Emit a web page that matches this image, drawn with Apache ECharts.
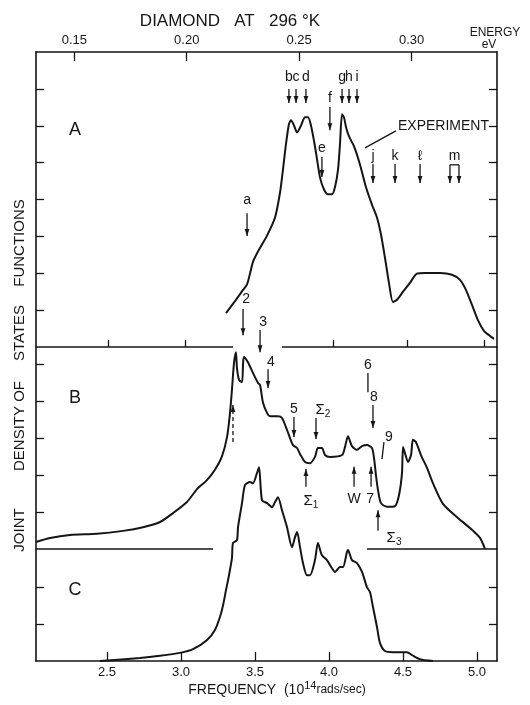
<!DOCTYPE html>
<html><head><meta charset="utf-8">
<script src="https://cdn.jsdelivr.net/npm/echarts@6/dist/echarts.min.js"></script>
<style>html,body{margin:0;padding:0;background:#fff}#c{width:530px;height:705px}</style>
</head><body><div id="c"></div>
<script>
// ---------- data ----------
const freqMin = 2.02, freqMax = 5.135;          // 10^14 rad/s
const hbarEV = 0.065821;                          // eV per 10^14 rad/s
const freqTicks = [2.5, 3.0, 3.5, 4.0, 4.5, 5.0];
const energyTicks = [0.15, 0.20, 0.25, 0.30];
const baseTicksA = [2.51, 3.03, 4.03, 4.53, 5.05];
const yTicksA = [1, 2, 3, 4, 5, 6, 7];
const yTicksB = [1, 2, 3, 4, 5];
const yTicksC = [1, 2];

// A: experiment
const curveA = [
 [3.304,0.92],[3.371,1.28],[3.419,1.55],[3.446,1.70],[3.466,1.99],[3.486,2.31],[3.52,2.59],
 [3.581,3.02],[3.635,3.51],[3.669,4.19],[3.689,4.82],[3.709,5.50],[3.729,6.04],[3.743,6.15],
 [3.763,6.01],[3.784,5.82],[3.811,6.01],[3.838,6.23],[3.858,6.23],[3.878,6.01],[3.899,5.58],
 [3.919,5.09],[3.939,4.60],[3.966,4.27],[3.993,4.14],[4.02,4.14],[4.040,4.33],[4.061,4.82],
 [4.074,5.50],[4.088,6.31],[4.101,6.23],[4.115,5.96],[4.135,5.71],[4.169,5.44],[4.209,4.95],
 [4.25,4.33],[4.29,3.86],[4.324,3.51],[4.351,3.05],[4.378,2.42],[4.405,1.74],[4.432,1.22],
 [4.459,1.28],[4.50,1.50],[4.547,1.74],[4.594,1.99],[4.648,2.01],[4.75,2.01],[4.831,1.96],
 [4.885,1.82],[4.925,1.55],[4.966,1.14],[5.006,0.73],[5.047,0.44],[5.088,0.30],[5.115,0.22]
];
// B: calculated
const curveB = [
 [2.02,0.19],[2.115,0.30],[2.25,0.38],[2.432,0.41],[2.608,0.49],[2.743,0.59],[2.858,0.73],
 [2.946,0.97],[3.04,1.27],[3.108,1.62],[3.175,1.86],[3.229,2.14],[3.277,2.51],[3.311,3.03],
 [3.331,3.68],[3.344,4.30],[3.358,5.03],[3.371,5.32],[3.378,4.89],[3.392,4.57],[3.412,4.51],
 [3.419,5.00],[3.425,5.19],[3.452,5.05],[3.486,4.76],[3.52,4.49],[3.534,4.43],[3.554,3.95],
 [3.581,3.68],[3.601,3.59],[3.655,3.59],[3.682,3.54],[3.716,3.22],[3.756,2.81],[3.784,2.73],
 [3.804,2.57],[3.838,2.35],[3.871,2.32],[3.905,2.49],[3.925,2.73],[3.952,2.73],[3.973,2.54],
 [4.007,2.49],[4.088,2.54],[4.108,2.76],[4.128,3.05],[4.155,2.78],[4.189,2.68],[4.223,2.78],
 [4.256,2.81],[4.29,2.73],[4.304,2.46],[4.317,2.00],[4.331,1.59],[4.351,1.24],[4.392,1.14],
 [4.446,1.16],[4.473,1.46],[4.493,2.05],[4.50,2.76],[4.513,2.59],[4.534,2.35],[4.554,2.54],
 [4.567,2.95],[4.587,2.89],[4.621,2.54],[4.662,2.19],[4.702,1.78],[4.77,1.22],[4.865,0.86],
 [4.952,0.57],[5.02,0.30],[5.054,0]
];
// C: calculated
const curveC = [
 [2.452,0],[2.723,0.08],[2.858,0.14],[2.993,0.22],[3.081,0.32],[3.176,0.57],[3.229,0.84],
 [3.263,1.19],[3.284,1.51],[3.304,1.92],[3.324,2.32],[3.344,2.78],[3.351,3.19],[3.378,3.27],
 [3.385,3.62],[3.412,4.27],[3.432,4.76],[3.466,4.84],[3.486,4.81],[3.513,5.08],[3.527,5.24],
 [3.547,4.35],[3.581,4.27],[3.615,4.16],[3.635,4.30],[3.655,4.43],[3.682,4.08],[3.716,3.62],
 [3.75,3.08],[3.77,3.35],[3.784,3.49],[3.804,3.08],[3.824,2.65],[3.851,2.32],[3.871,2.32],
 [3.905,2.73],[3.925,3.19],[3.952,2.86],[3.986,2.73],[4.02,2.51],[4.04,2.41],[4.074,2.54],
 [4.094,2.54],[4.121,2.95],[4.128,3.0],[4.155,2.73],[4.189,2.65],[4.223,2.41],[4.256,2.0],
 [4.277,1.86],[4.297,1.46],[4.324,0.92],[4.344,0.49],[4.378,0.27],[4.432,0.24],[4.527,0.24],
 [4.561,0.16],[4.614,0.05],[4.702,0]
];
// baseline segments (with gaps)
const segsA = [[2.02, 3.351], [3.682, 5.135]];
const segsBC = [[2.02, 3.216], [4.256, 5.135]];

// annotations (freq, panel units)
const notesA = [
 {t:'a', f:3.446, y1:3.63, y2:3.01, ly:3.99},
 {t:'b', f:3.729, y1:7.0, y2:6.62, ly:7.32},
 {t:'c', f:3.777, y1:7.0, y2:6.62, ly:7.32},
 {t:'d', f:3.844, y1:7.0, y2:6.62, ly:7.32},
 {t:'g', f:4.088, y1:7.0, y2:6.62, ly:7.32},
 {t:'h', f:4.135, y1:7.0, y2:6.62, ly:7.32},
 {t:'i', f:4.189, y1:7.0, y2:6.62, ly:7.32},
 {t:'f', f:4.006, y1:6.51, y2:5.88, ly:6.75},
 {t:'e', f:3.952, y1:5.15, y2:4.61, ly:5.40},
 {t:'j', f:4.297, y1:4.96, y2:4.45, ly:5.18},
 {t:'k', f:4.446, y1:4.96, y2:4.45, ly:5.18},
 {t:'ℓ', f:4.615, y1:4.96, y2:4.45, ly:5.18},
 {t:'',  f:4.817, y1:4.94, y2:4.45},
 {t:'',  f:4.878, y1:4.94, y2:4.45},
 {t:'m', lf:4.848, ly:5.18}
];
const notesB = [
 {t:'2', f:3.419, y1:6.49, y2:5.78, lf:3.44, ly:6.76},
 {t:'3', f:3.534, y1:5.92, y2:5.32, lf:3.554, ly:6.14},
 {t:'4', f:3.588, y1:4.86, y2:4.35, lf:3.608, ly:5.05},
 {t:'5', f:3.763, y1:3.57, y2:3.03, ly:3.78},
 {t:'Σ2', f:3.912, y1:3.54, y2:2.97, lf:3.939, ly:3.76},
 {t:'', f:3.351, y1:2.89, y2:3.89, dash:true},
 {t:'6', f:4.263, y1:4.76, y2:4.24, ly:4.97, noHead:true},
 {t:'8', f:4.297, y1:3.89, y2:3.27, lf:4.304, ly:4.11},
 {t:'9', f:4.371, f2:4.358, y1:2.89, y2:2.43, lf:4.405, ly:3.03, noHead:true},
 {t:'Σ1', f:3.844, y1:1.68, y2:2.16, lf:3.858, ly:1.30},
 {t:'W', f:4.169, y1:1.68, y2:2.22, ly:1.35},
 {t:'7', f:4.284, y1:1.68, y2:2.22, lf:4.277, ly:1.35},
 {t:'Σ3', f:4.331, y1:0.49, y2:1.05, lf:4.419, ly:0.30}
];
const expLabel = {t:'EXPERIMENT', f:4.466, y:5.99, from:[4.243,5.40], to:[4.452,5.86]};

// ---------- chart ----------
const INK = '#151515';
const FONT = '"Liberation Sans", Arial, sans-serif';
const chart = echarts.init(document.getElementById('c'), null, {renderer:'canvas'});
const L = 36, R = 33;
function yAx(grid, pos, max, ticks){
  return {type:'value', gridIndex:grid, position:pos, min:0, max:max,
    axisLine:{show:true, onZero:false, lineStyle:{color:INK, width:1.6}},
    axisTick:{show:true, inside:true, length:8, customValues:ticks, lineStyle:{color:INK, width:1.3}},
    axisLabel:{show:false}, splitLine:{show:false}};
}
function lineSeries(xi, yi, data, w){
  return {type:'line', xAxisIndex:xi, yAxisIndex:yi, data:data, showSymbol:false, symbol:'none',
    smooth:0.25, clip:false, silent:true, lineStyle:{color:INK, width:w||2}, z:3};
}
const series = [
  lineSeries(0, 0, curveA),
  lineSeries(2, 2, curveB),
  lineSeries(3, 4, curveC)
];
segsA.forEach(s => series.push(Object.assign(lineSeries(0,0,[[s[0],0],[s[1],0]],1.5),{smooth:false})));
segsBC.forEach(s => series.push(Object.assign(lineSeries(2,2,[[s[0],0],[s[1],0]],1.5),{smooth:false})));

chart.setOption({
  animation:false,
  backgroundColor:'#fff',
  grid:[
    {left:L, right:R, top:52, height:295},
    {left:L, right:R, top:347, height:202},
    {left:L, right:R, top:549, height:112}
  ],
  xAxis:[
    {type:'value', gridIndex:0, min:freqMin, max:freqMax, position:'bottom',
     axisLine:{show:false, onZero:false}, axisLabel:{show:false}, splitLine:{show:false},
     axisTick:{show:true, inside:true, length:7, customValues:baseTicksA, lineStyle:{color:INK,width:1.3}}},
    {type:'value', gridIndex:0, min:freqMin*hbarEV, max:freqMax*hbarEV, position:'top',
     axisLine:{show:true, onZero:false, lineStyle:{color:INK, width:1.6}}, splitLine:{show:false},
     axisTick:{show:true, inside:true, length:9, customValues:energyTicks, lineStyle:{color:INK,width:1.3}},
     axisLabel:{show:true, customValues:energyTicks, formatter:v=>v.toFixed(2), margin:5,
       fontSize:13, fontFamily:FONT, color:INK}},
    {type:'value', gridIndex:1, min:freqMin, max:freqMax, show:false},
    {type:'value', gridIndex:2, min:freqMin, max:freqMax, position:'bottom',
     axisLine:{show:true, onZero:false, lineStyle:{color:INK, width:1.6}}, splitLine:{show:false},
     axisTick:{show:true, inside:true, length:9, customValues:freqTicks, lineStyle:{color:INK,width:1.3}},
     axisLabel:{show:true, customValues:freqTicks, formatter:v=>v.toFixed(1), margin:5,
       fontSize:13, fontFamily:FONT, color:INK}}
  ],
  yAxis:[
    yAx(0,'left',8,yTicksA), yAx(0,'right',8,yTicksA),
    yAx(1,'left',5.46,yTicksB), yAx(1,'right',5.46,yTicksB),
    yAx(2,'left',3.03,yTicksC), yAx(2,'right',3.03,yTicksC)
  ],
  series: series
});

// ---------- annotations ----------
const G = [];
function P(panel, f, y){
  return panel === 'A' ? chart.convertToPixel({xAxisIndex:0, yAxisIndex:0}, [f, y])
                       : chart.convertToPixel({xAxisIndex:2, yAxisIndex:2}, [f, y]);
}
function txt(x, y, text, size, extra){
  const style = Object.assign({text:text, x:x, y:y, fill:INK, fontSize:size, fontFamily:FONT,
      align:'center', verticalAlign:'middle'}, extra||{});
  G.push({type:'text', style:style, z:10});
}
function sigma(x, y, d){
  txt(x, y, '{n|Σ}{s|'+d+'}', 15, {rich:{n:{fontSize:15, fontFamily:FONT, fill:INK},
      s:{fontSize:10, fontFamily:FONT, fill:INK, verticalAlign:'bottom', padding:[8,0,0,0]}}});
}
function arrow(a, b, head, dash){
  G.push({type:'line', shape:{x1:a[0], y1:a[1], x2:b[0], y2:b[1]},
    style:{stroke:INK, lineWidth:1.3, lineDash: dash ? [4,3] : null}, z:10});
  if (head){
    const dir = b[1] > a[1] ? 1 : -1;
    G.push({type:'polygon', shape:{points:[[b[0]-2.4, b[1]-7*dir],[b[0]+2.4, b[1]-7*dir],[b[0], b[1]]]},
      style:{fill:INK}, z:10});
  }
}
function drawNotes(panel, notes){
  notes.forEach(n => {
    if (n.f !== undefined){
      const a = P(panel, n.f, n.y1), b = P(panel, n.f2 !== undefined ? n.f2 : n.f, n.y2);
      arrow(a, b, !n.noHead, n.dash);
    }
    if (n.t){
      const p = P(panel, n.lf !== undefined ? n.lf : n.f, n.ly);
      if (n.t[0] === 'Σ') sigma(p[0]+3, p[1], n.t.slice(1));
      else txt(p[0], p[1], n.t, 14);
    }
  });
}
drawNotes('A', notesA);
drawNotes('B', notesB);
// bracket for m
(function(){ const a = P('A', 4.817, 4.94), b = P('A', 4.878, 4.94);
  G.push({type:'line', shape:{x1:a[0],y1:a[1],x2:b[0],y2:b[1]}, style:{stroke:INK,lineWidth:1.3}, z:10}); })();
// experiment label + leader
(function(){
  const p = P('A', expLabel.f, expLabel.y);
  txt(p[0], p[1], expLabel.t, 14, {align:'left'});
  const a = P('A', expLabel.from[0], expLabel.from[1]), b = P('A', expLabel.to[0], expLabel.to[1]);
  arrow(a, b, false, false);
})();

// fixed texts
txt(230, 21, 'DIAMOND   AT   296 °K', 17);
txt(495, 33, 'ENERGY', 12);
txt(489, 45, 'eV', 12);
txt(75, 130, 'A', 18);
txt(75, 398, 'B', 18);
txt(75, 590, 'C', 18);
txt(277, 690, '{a|FREQUENCY  (10}{b|14}{c|rads/sec)}', 14, {rich:{
  a:{fontSize:14, fontFamily:FONT, fill:INK},
  b:{fontSize:11, fontFamily:FONT, fill:INK, verticalAlign:'top', padding:[0,0,8,0]},
  c:{fontSize:12, fontFamily:FONT, fill:INK}}});
[['FUNCTIONS',243],['STATES',333],['DENSITY OF',426],['JOINT',530]].forEach(w => {
  G.push({type:'text', x:20, y:w[1], rotation:Math.PI/2, z:10,
    style:{text:w[0], fill:INK, fontSize:15, fontFamily:FONT, align:'center', verticalAlign:'middle'}});
});
chart.setOption({graphic:{elements:G}});
</script></body></html>
